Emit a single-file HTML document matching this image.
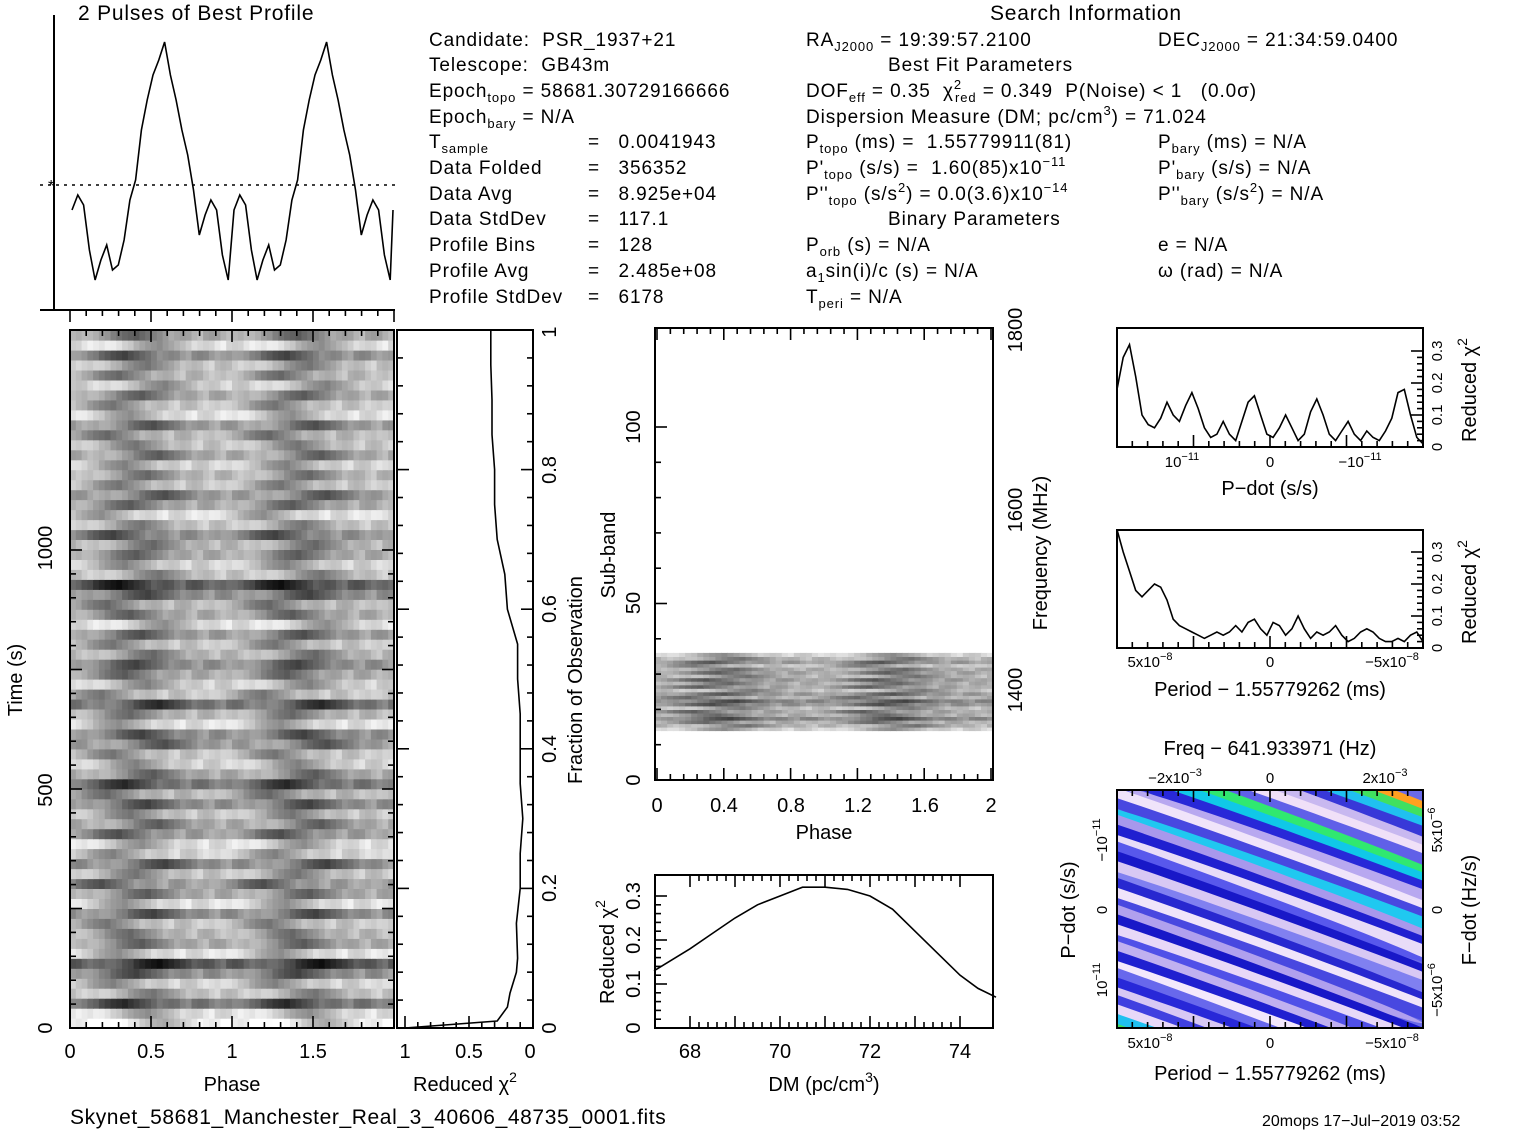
<!DOCTYPE html>
<html><head><meta charset="utf-8"><style>
html,body{margin:0;padding:0;background:#fff;width:1517px;height:1133px;overflow:hidden}
svg{display:block;font-family:"Liberation Sans",sans-serif;font-size:19px}
text{fill:#000;white-space:pre}
#info text{letter-spacing:0.9px}
</style></head><body>
<svg id="s" width="1517" height="1133" viewBox="0 0 1517 1133">
<defs>
<clipPath id="cgray"><rect x="70" y="330" width="324" height="698"/></clipPath>
<clipPath id="csub"><rect x="655" y="328" width="338" height="452"/></clipPath>
<clipPath id="ccol"><rect x="1117" y="790" width="306" height="238"/></clipPath>
</defs>
<g id="gray" clip-path="url(#cgray)"></g>
<g id="subimg" clip-path="url(#csub)"></g>
<g id="colimg" clip-path="url(#ccol)"></g>
<g id="marks" fill="none" stroke="#000" stroke-width="1.6"></g>
<g id="frames" fill="none" stroke="#000" stroke-width="2">
<rect x="70" y="330" width="324" height="698"/>
<rect x="397" y="330" width="136" height="698"/>
<rect x="655" y="328" width="338" height="452"/>
<rect x="655" y="875" width="338" height="153"/>
<rect x="1117" y="328" width="306" height="119"/>
<rect x="1117" y="530" width="306" height="118"/>
<rect x="1117" y="790" width="306" height="238"/>
<line x1="40" y1="310" x2="395" y2="310"/>
<line x1="54" y1="15" x2="54" y2="310"/>
</g>
<line x1="40" y1="185" x2="395" y2="185" stroke="#000" stroke-width="1.5" stroke-dasharray="3,5"/>
<text x="48" y="191" font-size="16">*</text>
<text x="78" y="20" font-size="21" letter-spacing="0.8">2 Pulses of Best Profile</text>
<text x="990" y="20" font-size="21" letter-spacing="0.8">Search Information</text>
<g id="info" font-size="19">
<text x="429" y="46">Candidate:  PSR_1937+21</text>
<text x="429" y="71">Telescope:  GB43m</text>
<text x="429" y="97">Epoch<tspan font-size="13" dy="5">topo</tspan><tspan dy="-5"> = 58681.30729166666</tspan></text>
<text x="429" y="123">Epoch<tspan font-size="13" dy="5">bary</tspan><tspan dy="-5"> = N/A</tspan></text>
<text x="429" y="148">T<tspan font-size="13" dy="5">sample</tspan></text><text x="588" y="148">=   0.0041943</text>
<text x="429" y="174">Data Folded</text><text x="588" y="174">=   356352</text>
<text x="429" y="200">Data Avg</text><text x="588" y="200">=   8.925e+04</text>
<text x="429" y="225">Data StdDev</text><text x="588" y="225">=   117.1</text>
<text x="429" y="251">Profile Bins</text><text x="588" y="251">=   128</text>
<text x="429" y="277">Profile Avg</text><text x="588" y="277">=   2.485e+08</text>
<text x="429" y="303">Profile StdDev</text><text x="588" y="303">=   6178</text>
<text x="806" y="46">RA<tspan font-size="13" dy="5">J2000</tspan><tspan dy="-5"> = 19:39:57.2100</tspan></text>
<text x="1158" y="46">DEC<tspan font-size="13" dy="5">J2000</tspan><tspan dy="-5"> = 21:34:59.0400</tspan></text>
<text x="888" y="71">Best Fit Parameters</text>
<text x="806" y="97">DOF<tspan font-size="13" dy="5">eff</tspan><tspan dy="-5"> = 0.35  χ</tspan><tspan font-size="13" dy="-8">2</tspan><tspan font-size="13" dy="13" dx="-7">red</tspan><tspan dy="-5"> = 0.349  P(Noise) &lt; 1   (0.0σ)</tspan></text>
<text x="806" y="123">Dispersion Measure (DM; pc/cm<tspan font-size="13" dy="-8">3</tspan><tspan dy="8">) = 71.024</tspan></text>
<text x="806" y="148">P<tspan font-size="13" dy="5">topo</tspan><tspan dy="-5"> (ms) =  1.55779911(81)</tspan></text>
<text x="1158" y="148">P<tspan font-size="13" dy="5">bary</tspan><tspan dy="-5"> (ms) = N/A</tspan></text>
<text x="806" y="174">P'<tspan font-size="13" dy="5">topo</tspan><tspan dy="-5"> (s/s) =  1.60(85)x10</tspan><tspan font-size="13" dy="-8">−11</tspan></text>
<text x="1158" y="174">P'<tspan font-size="13" dy="5">bary</tspan><tspan dy="-5"> (s/s) = N/A</tspan></text>
<text x="806" y="200">P''<tspan font-size="13" dy="5">topo</tspan><tspan dy="-5"> (s/s</tspan><tspan font-size="13" dy="-8">2</tspan><tspan dy="8">) = 0.0(3.6)x10</tspan><tspan font-size="13" dy="-8">−14</tspan></text>
<text x="1158" y="200">P''<tspan font-size="13" dy="5">bary</tspan><tspan dy="-5"> (s/s</tspan><tspan font-size="13" dy="-8">2</tspan><tspan dy="8">) = N/A</tspan></text>
<text x="888" y="225">Binary Parameters</text>
<text x="806" y="251">P<tspan font-size="13" dy="5">orb</tspan><tspan dy="-5"> (s) = N/A</tspan></text>
<text x="1158" y="251">e = N/A</text>
<text x="806" y="277">a<tspan font-size="13" dy="5">1</tspan><tspan dy="-5">sin(i)/c (s) = N/A</tspan></text>
<text x="1158" y="277">ω (rad) = N/A</text>
<text x="806" y="303">T<tspan font-size="13" dy="5">peri</tspan><tspan dy="-5"> = N/A</tspan></text>
</g>
<g font-size="20">
<text x="70" y="1058" text-anchor="middle">0</text><text x="151" y="1058" text-anchor="middle">0.5</text><text x="232" y="1058" text-anchor="middle">1</text><text x="313" y="1058" text-anchor="middle">1.5</text>
<text x="232" y="1091" text-anchor="middle">Phase</text>
<text transform="translate(52,1028) rotate(-90)" text-anchor="middle">0</text>
<text transform="translate(52,790) rotate(-90)" text-anchor="middle">500</text>
<text transform="translate(52,548) rotate(-90)" text-anchor="middle">1000</text>
<text transform="translate(22,680) rotate(-90)" text-anchor="middle">Time (s)</text>
<text x="405" y="1058" text-anchor="middle">1</text><text x="469" y="1058" text-anchor="middle">0.5</text><text x="530" y="1058" text-anchor="middle">0</text>
<text x="465" y="1091" text-anchor="middle">Reduced χ<tspan font-size="14" dy="-9">2</tspan></text>
<text transform="translate(556,1028) rotate(-90)" text-anchor="middle">0</text>
<text transform="translate(556,888) rotate(-90)" text-anchor="middle">0.2</text>
<text transform="translate(556,749) rotate(-90)" text-anchor="middle">0.4</text>
<text transform="translate(556,609) rotate(-90)" text-anchor="middle">0.6</text>
<text transform="translate(556,470) rotate(-90)" text-anchor="middle">0.8</text>
<text transform="translate(556,332) rotate(-90)" text-anchor="middle">1</text>
<text transform="translate(582,680) rotate(-90)" text-anchor="middle">Fraction of Observation</text>
<text x="657" y="812" text-anchor="middle">0</text><text x="724" y="812" text-anchor="middle">0.4</text><text x="791" y="812" text-anchor="middle">0.8</text><text x="858" y="812" text-anchor="middle">1.2</text><text x="925" y="812" text-anchor="middle">1.6</text><text x="991" y="812" text-anchor="middle">2</text>
<text x="824" y="839" text-anchor="middle">Phase</text>
<text transform="translate(640,780) rotate(-90)" text-anchor="middle">0</text>
<text transform="translate(640,603) rotate(-90)" text-anchor="middle">50</text>
<text transform="translate(640,427) rotate(-90)" text-anchor="middle">100</text>
<text transform="translate(615,555) rotate(-90)" text-anchor="middle">Sub-band</text>
<text transform="translate(1022,690) rotate(-90)" text-anchor="middle">1400</text>
<text transform="translate(1022,510) rotate(-90)" text-anchor="middle">1600</text>
<text transform="translate(1022,330) rotate(-90)" text-anchor="middle">1800</text>
<text transform="translate(1047,553) rotate(-90)" text-anchor="middle">Frequency (MHz)</text>
<text x="690" y="1058" text-anchor="middle">68</text><text x="780" y="1058" text-anchor="middle">70</text><text x="870" y="1058" text-anchor="middle">72</text><text x="960" y="1058" text-anchor="middle">74</text>
<text x="824" y="1091" text-anchor="middle">DM (pc/cm<tspan font-size="14" dy="-9">3</tspan><tspan dy="9">)</tspan></text>
<text transform="translate(640,1028) rotate(-90)" text-anchor="middle">0</text>
<text transform="translate(640,984) rotate(-90)" text-anchor="middle">0.1</text>
<text transform="translate(640,940) rotate(-90)" text-anchor="middle">0.2</text>
<text transform="translate(640,896) rotate(-90)" text-anchor="middle">0.3</text>
<text transform="translate(614,952) rotate(-90)" text-anchor="middle">Reduced χ<tspan font-size="14" dy="-9">2</tspan></text>
<g font-size="15">
<text transform="translate(1442,447) rotate(-90)" text-anchor="middle">0</text>
<text transform="translate(1442,415) rotate(-90)" text-anchor="middle">0.1</text>
<text transform="translate(1442,383) rotate(-90)" text-anchor="middle">0.2</text>
<text transform="translate(1442,351) rotate(-90)" text-anchor="middle">0.3</text>
<text transform="translate(1442,648) rotate(-90)" text-anchor="middle">0</text>
<text transform="translate(1442,616) rotate(-90)" text-anchor="middle">0.1</text>
<text transform="translate(1442,584) rotate(-90)" text-anchor="middle">0.2</text>
<text transform="translate(1442,552) rotate(-90)" text-anchor="middle">0.3</text>
<text x="1182" y="467" text-anchor="middle">10<tspan font-size="11" dy="-7">−11</tspan></text>
<text x="1270" y="467" text-anchor="middle">0</text>
<text x="1360" y="467" text-anchor="middle">−10<tspan font-size="11" dy="-7">−11</tspan></text>
<text x="1150" y="667" text-anchor="middle">5x10<tspan font-size="11" dy="-7">−8</tspan></text>
<text x="1270" y="667" text-anchor="middle">0</text>
<text x="1392" y="667" text-anchor="middle">−5x10<tspan font-size="11" dy="-7">−8</tspan></text>
<text x="1175" y="783" text-anchor="middle">−2x10<tspan font-size="11" dy="-7">−3</tspan></text>
<text x="1270" y="783" text-anchor="middle">0</text>
<text x="1385" y="783" text-anchor="middle">2x10<tspan font-size="11" dy="-7">−3</tspan></text>
<text x="1150" y="1048" text-anchor="middle">5x10<tspan font-size="11" dy="-7">−8</tspan></text>
<text x="1270" y="1048" text-anchor="middle">0</text>
<text x="1392" y="1048" text-anchor="middle">−5x10<tspan font-size="11" dy="-7">−8</tspan></text>
<text transform="translate(1107,840) rotate(-90)" text-anchor="middle">−10<tspan font-size="11" dy="-7">−11</tspan></text>
<text transform="translate(1107,910) rotate(-90)" text-anchor="middle">0</text>
<text transform="translate(1107,980) rotate(-90)" text-anchor="middle">10<tspan font-size="11" dy="-7">−11</tspan></text>
<text transform="translate(1442,830) rotate(-90)" text-anchor="middle">5x10<tspan font-size="11" dy="-7">−6</tspan></text>
<text transform="translate(1442,910) rotate(-90)" text-anchor="middle">0</text>
<text transform="translate(1442,990) rotate(-90)" text-anchor="middle">−5x10<tspan font-size="11" dy="-7">−6</tspan></text>
</g>
<text transform="translate(1476,390) rotate(-90)" text-anchor="middle">Reduced χ<tspan font-size="14" dy="-9">2</tspan></text>
<text transform="translate(1476,592) rotate(-90)" text-anchor="middle">Reduced χ<tspan font-size="14" dy="-9">2</tspan></text>
<text x="1270" y="495" text-anchor="middle">P−dot (s/s)</text>
<text x="1270" y="696" text-anchor="middle">Period − 1.55779262 (ms)</text>
<text x="1270" y="755" text-anchor="middle">Freq − 641.933971 (Hz)</text>
<text x="1270" y="1080" text-anchor="middle">Period − 1.55779262 (ms)</text>
<text transform="translate(1075,910) rotate(-90)" text-anchor="middle">P−dot (s/s)</text>
<text transform="translate(1476,910) rotate(-90)" text-anchor="middle">F−dot (Hz/s)</text>
<text x="70" y="1124" font-size="21" letter-spacing="0.6">Skynet_58681_Manchester_Real_3_40606_48735_0001.fits</text>
<text x="1262" y="1126" font-size="16">20mops 17−Jul−2019 03:52</text>
</g>
</svg>
<script>
// ---- data ----
const profileOnePulse=[100,115,105,60,30,50,65,40,45,70,110,130,180,210,235,250,268,235,210,180,155,120,75,95,110,100,55,30];
const fracValues=[0,0.01,0.03,0.05,0.08,0.1,0.15,0.2,0.25,0.3,0.35,0.4,0.45,0.5,0.55,0.6,0.65,0.7,0.75,0.8,0.85,0.9,0.95,1.0];
const chiFracValues=[1.0,0.28,0.2,0.18,0.13,0.12,0.13,0.1,0.1,0.08,0.1,0.1,0.1,0.12,0.12,0.2,0.22,0.28,0.3,0.3,0.32,0.32,0.33,0.33];
const dmValues=[67.2,67.6,68,68.5,69,69.5,70,70.5,71,71.5,72,72.5,73,73.5,74,74.4,74.8];
const dmChiValues=[0.13,0.155,0.18,0.215,0.25,0.28,0.3,0.32,0.32,0.315,0.3,0.27,0.22,0.17,0.12,0.09,0.07];
const pdotChiValues=[0.18,0.28,0.32,0.22,0.1,0.07,0.06,0.09,0.14,0.1,0.08,0.13,0.17,0.12,0.06,0.03,0.04,0.08,0.04,0.02,0.08,0.14,0.16,0.1,0.04,0.03,0.06,0.1,0.06,0.02,0.04,0.11,0.15,0.1,0.04,0.02,0.05,0.08,0.04,0.02,0.05,0.03,0.02,0.05,0.09,0.17,0.18,0.1,0.03,0.01];
const periodChiValues=[0.37,0.3,0.24,0.18,0.16,0.18,0.2,0.19,0.15,0.09,0.07,0.06,0.05,0.04,0.03,0.04,0.05,0.04,0.05,0.07,0.05,0.08,0.09,0.06,0.04,0.08,0.07,0.04,0.06,0.1,0.06,0.03,0.05,0.04,0.05,0.07,0.04,0.02,0.03,0.05,0.06,0.05,0.03,0.02,0.02,0.03,0.02,0.04,0.05,0.02];
const rowDark=[0.2,0.3,0.7,0.4,0.35,0.6,0.8,0.3,0.5,0.45,0.4,0.6,0.3,0.5,0.55,0.4,0.6,0.35,0.3,0.55,0.5,0.4,0.6,0.45,0.7,0.5,0.35,0.4,0.55,0.6,0.3,0.45,0.7,0.4,0.35,0.5,0.6,0.45,0.4,0.55,0.3,0.5,0.45,0.6,0.8,0.4,0.35,0.5,0.45,0.6,0.4,0.3,0.5,0.55,0.4,0.45,0.35,0.5,0.4,0.45,0.55,0.3,0.4,0.5,0.35,0.45,0.4,0.6,0.3,0.5];
const rowShift=[0,3,7,2,9,5,1,8,4,6,10,2,7,3,11,5,0,9,4,8,1,6,3,10,7,2,5,9,0,4,8,6,1,11,3,7,5,2,9,4,0,6,10,3,8,1,7,5,2,9,4,11,6,0,8,3,7,1,5,10,2,6,9,4,0,8,3,7,1,5];
const subDark=[0.3,0.45,0.5,0.7,0.5,0.55,0.4,0.65,0.7,0.5,0.6,0.4,0.55,0.5,0.6,0.45,0.55,0.5,0.4,0.6,0.45,0.3];
const stripeColors=["#ffa020","#40e060","#20c0f0","#3838d8","#c8b8f0","#f0e0f8","#6060e8","#30e870","#10c8e8","#2828d8","#b8a8f0","#f0e4fa","#4848e0","#20c8f0","#a898ec","#2020d0","#e8dcf8","#5858ec","#1818c8","#d8c8f4","#8080f0","#2828d0","#f0e4fa","#4848e0","#b0a0ee","#1818c8","#e8d8f8","#5050e8","#c0b0f0","#2020d0","#f4e8fc","#6868ec","#2828d8","#d8c8f4","#4040e0","#e8d8f8","#20c0f0","#40e060","#ffe040"];
// ---- helpers ----
const NS="http://www.w3.org/2000/svg";
const marks=document.getElementById('marks');
function mk(tag,parent){const e=document.createElementNS(NS,tag);parent.appendChild(e);return e;}
function line(pts,name){const p=mk('polyline',marks);p.setAttribute('points',pts.map(q=>q[0].toFixed(1)+','+q[1].toFixed(1)).join(' '));

}
const profX=i=>72+i*(162/profileOnePulse.length);
const profY=v=>310-v;
const pp=[];for(let k=0;k<2;k++)profileOnePulse.forEach((v,i)=>pp.push([profX(i)+k*162,profY(v)]));
pp.push([393,profY(profileOnePulse[0]*0.8+20)]);
line(pp,'profile-curve');
const chiX=c=>533-128*c, fracY=f=>1028-698*f;
line(fracValues.map((f,i)=>[chiX(chiFracValues[i]),fracY(f)]),'chi-fraction-curve');
const dmX=d=>690+(d-68)*45, dmY=c=>1028-c*440;
line(dmValues.map((d,i)=>[dmX(d),dmY(dmChiValues[i])]),'dm-curve');
const pdX=i=>1117+i*306/(pdotChiValues.length-1), pdY=c=>447-c*320;
line(pdotChiValues.map((c,i)=>[pdX(i),pdY(c)]),'pdot-curve');
const peX=i=>1117+i*306/(periodChiValues.length-1), peY=c=>648-c*320;
line(periodChiValues.map((c,i)=>[peX(i),peY(c)]),'period-curve');
// gray image
const gray=document.getElementById('gray');
const nCol=profileOnePulse.length;
const rowH=698/rowDark.length, colW=162/nCol;
rowDark.forEach((d,r)=>{
 for(let c=0;c<nCol*2;c++){
  const pv=profileOnePulse[(c+rowShift[r])%nCol]/268;
  let g=1-(d*1.0+pv*0.45)+0.3;g=Math.max(0,Math.min(1,g));
  const v=Math.round(g*255);
  const rc=mk('rect',gray);
  rc.setAttribute('x',(70+c*colW).toFixed(1));rc.setAttribute('y',(1028-(r+1)*rowH).toFixed(1));
  rc.setAttribute('width',(colW+0.6).toFixed(1));rc.setAttribute('height',(rowH+0.6).toFixed(1));
  rc.setAttribute('fill',`rgb(${v},${v},${v})`);
  
  
 }});
// subband image
const sub=document.getElementById('subimg');
const subY=s=>780-s*3.53;
const scw=338/(nCol*2);
subDark.forEach((d,r)=>{
 for(let c=0;c<nCol*2;c++){
  const pv=profileOnePulse[(c+rowShift[r+5])%nCol]/268;
  let g=1-(d*0.7+pv*0.4);g=Math.max(0,Math.min(1,g+0.15));
  const v=Math.round(g*255);
  const rc=mk('rect',sub);
  rc.setAttribute('x',(655+c*scw).toFixed(1));rc.setAttribute('y',subY(14+r+1).toFixed(1));
  rc.setAttribute('width',(scw+0.6).toFixed(1));rc.setAttribute('height','4.1');
  rc.setAttribute('fill',`rgb(${v},${v},${v})`);
  
  
 }});
// colormap stripes
const col=document.getElementById('colimg');
const bg=mk('rect',col);bg.setAttribute('x','1117');bg.setAttribute('y','790');bg.setAttribute('width','306');bg.setAttribute('height','238');bg.setAttribute('fill','#6a6ae8');


const sg=mk('g',col);sg.setAttribute('transform','rotate(20 1270 909)');
stripeColors.forEach((c,i)=>{
 const rc=mk('ellipse',sg);
 rc.setAttribute('cx',(1180+(i*53)%180).toFixed(1));rc.setAttribute('cy',(760+i*8.5).toFixed(1));
 rc.setAttribute('rx','260');rc.setAttribute('ry','7');
 rc.setAttribute('fill',c);
 
 
});
// ticks
function ticks(x1,x2,y,n,dir){for(let i=0;i<=n;i++){const x=x1+(x2-x1)*i/n;const l=mk('line',marks);l.setAttribute('x1',x);l.setAttribute('x2',x);l.setAttribute('y1',y);l.setAttribute('y2',y+dir*(i%5?6:12));

}}
function vticks(y1,y2,x,n,dir){for(let i=0;i<=n;i++){const y=y1+(y2-y1)*i/n;const l=mk('line',marks);l.setAttribute('y1',y);l.setAttribute('y2',y);l.setAttribute('x1',x);l.setAttribute('x2',x+dir*(i%5?6:12));

}}
ticks(70,394,310,20,1);ticks(70,394,1028,20,-1);ticks(70,394,330,20,1);
vticks(1028,550,70,20,1);vticks(1028,550,394,20,-1);
vticks(1028,330,397,25,1);vticks(1028,330,533,25,-1);
ticks(405,533,1028,10,-1);
ticks(657,991,780,25,-1);ticks(657,991,328,25,1);vticks(780,427,655,10,1);
ticks(690,960,1028,30,-1);ticks(690,960,875,30,1);vticks(1028,896,655,15,1);
ticks(1117,1423,447,20,-1);ticks(1117,1423,648,20,-1);ticks(1117,1423,1028,20,-1);ticks(1117,1423,790,20,1);
vticks(447,351,1423,15,-1);vticks(648,552,1423,15,-1);
</script>
</body></html>
